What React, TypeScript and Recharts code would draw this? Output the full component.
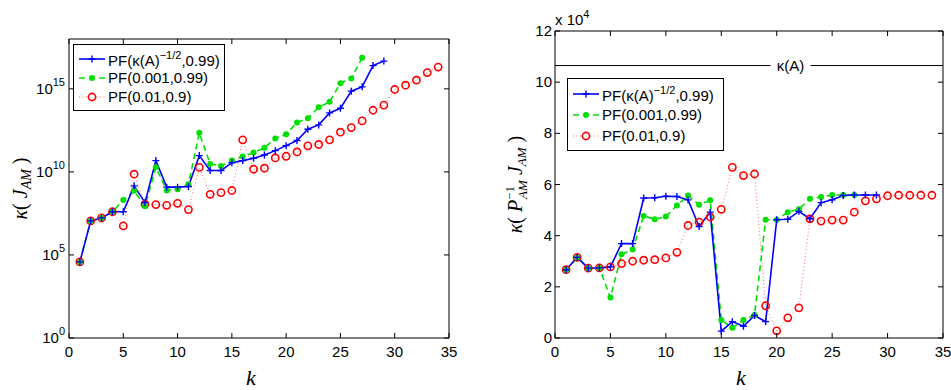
import { Line, LineChart, ReferenceLine, XAxis, YAxis } from "recharts";

// left panel, log10 of kappa(J_AM)
const blueLeft = [4.58, 7.05, 7.23, 7.6, 7.6, 9.16, 8.15, 10.68, 9.08, 9.08, 9.12, 10.98, 10.08, 10.08, 10.55, 10.68, 10.82, 11.02, 11.28, 11.58, 11.89, 12.57, 12.83, 13.55, 13.83, 14.86, 15.12, 16.4, 16.67];
const greenLeft = [4.58, 7.05, 7.23, 7.6, 8.31, 8.86, 7.93, 10.28, 8.88, 8.96, 9.25, 12.35, 10.48, 10.36, 10.68, 10.92, 11.16, 11.45, 12.01, 12.27, 12.97, 13.23, 13.89, 14.22, 15.34, 15.62, 16.87];
const redLeft = [4.58, 7.05, 7.23, 7.6, 6.75, 9.86, 8.05, 8.03, 7.99, 8.11, 7.73, 10.27, 8.65, 8.75, 8.88, 11.93, 10.16, 10.22, 10.84, 10.94, 11.2, 11.57, 11.65, 11.93, 12.39, 12.67, 13.07, 13.71, 14.02, 14.96, 15.22, 15.52, 15.98, 16.31];

// right panel, kappa(P^-1 J) in units of 1e4
const blueRight = [2.67, 3.15, 2.73, 2.74, 2.78, 3.69, 3.69, 5.47, 5.48, 5.54, 5.53, 5.4, 4.36, 4.92, 0.27, 0.64, 0.46, 0.88, 0.64, 4.62, 4.64, 4.95, 4.66, 5.29, 5.4, 5.57, 5.59, 5.59, 5.59];
const greenRight = [2.67, 3.15, 2.73, 2.74, 1.58, 3.27, 3.46, 4.77, 4.64, 4.75, 5.18, 5.57, 5.21, 5.38, 0.7, 0.4, 0.7, 0.9, 4.62, 4.62, 4.92, 5.03, 5.44, 5.51, 5.59, 5.59, 5.59];
const redRight = [2.67, 3.15, 2.73, 2.74, 2.78, 2.91, 3.0, 3.04, 3.06, 3.13, 3.35, 4.4, 4.53, 4.73, 5.03, 6.67, 6.35, 6.41, 1.26, 0.28, 0.79, 1.18, 4.66, 4.57, 4.61, 4.61, 4.92, 5.36, 5.44, 5.56, 5.58, 5.58, 5.58, 5.58];
const kappaA = 10.65;

const xTicks = [0, 5, 10, 15, 20, 25, 30, 35];
const leftYTicks = [0, 5, 10, 15];
const rightYTicks = [0, 2, 4, 6, 8, 10, 12];

const BLUE = "#0000ff";
const GREEN = "#00e000";
const RED = "#ff0000";
const SANS = '"Liberation Sans", Arial, Helvetica, sans-serif';
const SERIF = '"Liberation Serif", "DejaVu Serif", "Times New Roman", serif';

const toRows = (values: number[]) => values.map((v, i) => ({ k: i + 1, v }));

function plusDot(p: any) {
  if (p.cx == null || p.cy == null) return <g key={`p-${p.index}`} />;
  const { cx, cy } = p;
  return <path key={`p-${p.index}`} d={`M${cx - 3.5},${cy}H${cx + 3.5}M${cx},${cy - 3.5}V${cy + 3.5}`} stroke={BLUE} strokeWidth={1.4} />;
}

function greenDot(p: any) {
  if (p.cx == null || p.cy == null) return <g key={`g-${p.index}`} />;
  return <circle key={`g-${p.index}`} cx={p.cx} cy={p.cy} r={3} fill={GREEN} stroke="none" />;
}

function redDot(p: any) {
  if (p.cx == null || p.cy == null) return <g key={`r-${p.index}`} />;
  return <circle key={`r-${p.index}`} cx={p.cx} cy={p.cy} r={3.6} fill="none" stroke={RED} strokeWidth={1.6} />;
}

function BottomTick({ x, y, payload }: any) {
  return (
    <g>
      <line x1={x} x2={x} y1={y} y2={y - 5} stroke="#000" />
      <text x={x} y={y + 19} textAnchor="middle" fontSize={15} fontFamily={SANS} fill="#000">
        {payload.value}
      </text>
    </g>
  );
}

function TopTick({ x, y }: any) {
  return <line x1={x} x2={x} y1={y} y2={y + 5} stroke="#000" />;
}

function RightTick({ x, y }: any) {
  return <line x1={x} x2={x - 5} y1={y} y2={y} stroke="#000" />;
}

function LogTick({ x, y, payload }: any) {
  return (
    <g>
      <line x1={x} x2={x + 5} y1={y} y2={y} stroke="#000" />
      <text x={x - 4} y={y + 5} textAnchor="end" fontSize={15} fontFamily={SANS} fill="#000">
        <tspan>10</tspan>
        <tspan dy={-8} fontSize={11}>{payload.value}</tspan>
      </text>
    </g>
  );
}

function LinTick({ x, y, payload }: any) {
  return (
    <g>
      <line x1={x} x2={x + 5} y1={y} y2={y} stroke="#000" />
      <text x={x - 3} y={y + 5} textAnchor="end" fontSize={15} fontFamily={SANS} fill="#000">
        {payload.value}
      </text>
    </g>
  );
}

function KLabel({ viewBox }: any) {
  return (
    <text x={viewBox.x + viewBox.width / 2 - 8} y={viewBox.y + 47} textAnchor="middle" fontSize={22} fontStyle="italic" fontFamily={SERIF} fill="#000">
      k
    </text>
  );
}

function LeftYLabel({ viewBox }: any) {
  const x = viewBox.x + 8;
  const y = viewBox.y + viewBox.height / 2;
  return (
    <text transform={`translate(${x},${y}) rotate(-90)`} textAnchor="middle" fontSize={20} fontFamily={SERIF} fill="#000">
      <tspan fontStyle="italic">κ</tspan>
      <tspan>( </tspan>
      <tspan fontStyle="italic">J</tspan>
      <tspan fontStyle="italic" fontSize={14} dy={4}>AM</tspan>
      <tspan dy={-4}> )</tspan>
    </text>
  );
}

function RightYLabel({ viewBox }: any) {
  const x = viewBox.x + 17;
  const y = viewBox.y + viewBox.height / 2;
  return (
    <text transform={`translate(${x},${y}) rotate(-90)`} textAnchor="middle" fontSize={20} fontFamily={SERIF} fill="#000">
      <tspan fontStyle="italic">κ</tspan>
      <tspan>( </tspan>
      <tspan fontStyle="italic">P</tspan>
      <tspan fontSize={13} dy={-8}>−1</tspan>
      <tspan fontStyle="italic" fontSize={13} dx={-13} dy={13}>AM</tspan>
      <tspan fontStyle="italic" dy={-5}> J</tspan>
      <tspan fontStyle="italic" fontSize={13} dy={4}>AM</tspan>
      <tspan dy={-4}> )</tspan>
    </text>
  );
}

function KappaLabel({ viewBox }: any) {
  const cx = viewBox.x + viewBox.width * 0.607;
  const cy = viewBox.y;
  return (
    <g>
      <rect x={cx - 20} y={cy - 9} width={40} height={18} fill="#fff" />
      <text x={cx} y={cy + 5} textAnchor="middle" fontSize={15} fontFamily={SANS} fill="#000">
        κ(A)
      </text>
    </g>
  );
}

function LegendBox({ left, top, width, rowGap }: { left: number; top: number; width: number; rowGap: number }) {
  const rows = [
    { key: "b", text: <>PF(κ(A)<sup style={{ fontSize: 11, position: "relative", top: -1 }}>−1/2</sup>,0.99)</>, color: BLUE, dash: undefined, marker: "plus" },
    { key: "g", text: <>PF(0.001,0.99)</>, color: GREEN, dash: "6 4", marker: "dot" },
    { key: "r", text: <>PF(0.01,0.9)</>, color: RED, dash: "1 2.5", marker: "circle" }
  ];
  return (
    <div
      style={{
        position: "absolute",
        left,
        top,
        width,
        border: "1px solid #000",
        background: "#fff",
        padding: "4px 0 4px 4px",
        boxSizing: "border-box",
        fontFamily: SANS,
        fontSize: 15,
        lineHeight: `${rowGap}px`,
        color: "#000"
      }}
    >
      {rows.map((row) => (
        <div key={row.key} style={{ display: "flex", alignItems: "center", height: rowGap, whiteSpace: "nowrap" }}>
          <svg width={28} height={12} style={{ marginRight: 2, flex: "none" }}>
            <line x1={1} x2={27} y1={6} y2={6} stroke={row.color} strokeWidth={row.marker === "circle" ? 1 : 1.6} strokeDasharray={row.dash} opacity={row.marker === "circle" ? 0.6 : 1} />
            {row.marker === "plus" && <path d="M10.5,6H17.5M14,2.5V9.5" stroke={row.color} strokeWidth={1.4} />}
            {row.marker === "dot" && <circle cx={14} cy={6} r={3} fill={row.color} />}
            {row.marker === "circle" && <circle cx={14} cy={6} r={3.6} fill="#fff" stroke={row.color} strokeWidth={1.6} />}
          </svg>
          <span>{row.text}</span>
        </div>
      ))}
    </div>
  );
}

export default function App() {
  return (
    <div style={{ position: "absolute", left: 0, top: 0, width: 951, height: 390, background: "#fff", overflow: "hidden" }}>
      <div style={{ position: "absolute", left: 0, top: 0 }}>
        <LineChart width={460} height={390} margin={{ top: 34, right: 6, bottom: 22, left: 19 }}>
          <XAxis type="number" dataKey="k" domain={[0, 35]} ticks={xTicks} interval={0} allowDataOverflow height={30} tickSize={0} tickMargin={0} tick={<BottomTick />} axisLine={{ stroke: "#000" }} label={<KLabel />} />
          <XAxis xAxisId="top" orientation="top" type="number" dataKey="k" domain={[0, 35]} ticks={xTicks} interval={0} allowDataOverflow height={5} tickSize={0} tickMargin={0} tick={<TopTick />} axisLine={{ stroke: "#000" }} />
          <YAxis type="number" domain={[0, 18]} ticks={leftYTicks} interval={0} allowDataOverflow width={50} tickSize={0} tickMargin={0} tick={<LogTick />} axisLine={{ stroke: "#000" }} label={<LeftYLabel />} />
          <YAxis yAxisId="right" orientation="right" type="number" domain={[0, 18]} ticks={leftYTicks} interval={0} allowDataOverflow width={5} tickSize={0} tickMargin={0} tick={<RightTick />} axisLine={{ stroke: "#000" }} />
          <Line data={toRows(redLeft)} dataKey="v" type="linear" stroke={RED} strokeWidth={1} strokeDasharray="1 2.5" strokeOpacity={0.6} dot={redDot} activeDot={false} isAnimationActive={false} />
          <Line data={toRows(greenLeft)} dataKey="v" type="linear" stroke={GREEN} strokeWidth={1.6} strokeDasharray="6 4" dot={greenDot} activeDot={false} isAnimationActive={false} />
          <Line data={toRows(blueLeft)} dataKey="v" type="linear" stroke={BLUE} strokeWidth={1.6} dot={plusDot} activeDot={false} isAnimationActive={false} />
        </LineChart>
        <LegendBox left={73} top={44} width={152} rowGap={19} />
      </div>
      <div style={{ position: "absolute", left: 475, top: 0 }}>
        <LineChart width={476} height={390} margin={{ top: 26, right: 3, bottom: 22, left: 30 }}>
          <XAxis type="number" dataKey="k" domain={[0, 35]} ticks={xTicks} interval={0} allowDataOverflow height={30} tickSize={0} tickMargin={0} tick={<BottomTick />} axisLine={{ stroke: "#000" }} label={<KLabel />} />
          <XAxis xAxisId="top" orientation="top" type="number" dataKey="k" domain={[0, 35]} ticks={xTicks} interval={0} allowDataOverflow height={5} tickSize={0} tickMargin={0} tick={<TopTick />} axisLine={{ stroke: "#000" }} />
          <YAxis type="number" domain={[0, 12]} ticks={rightYTicks} interval={0} allowDataOverflow width={50} tickSize={0} tickMargin={0} tick={<LinTick />} axisLine={{ stroke: "#000" }} label={<RightYLabel />} />
          <YAxis yAxisId="right" orientation="right" type="number" domain={[0, 12]} ticks={rightYTicks} interval={0} allowDataOverflow width={5} tickSize={0} tickMargin={0} tick={<RightTick />} axisLine={{ stroke: "#000" }} />
          <ReferenceLine y={kappaA} stroke="#000" strokeWidth={1} label={<KappaLabel />} />
          <Line data={toRows(redRight)} dataKey="v" type="linear" stroke={RED} strokeWidth={1} strokeDasharray="1 2.5" strokeOpacity={0.6} dot={redDot} activeDot={false} isAnimationActive={false} />
          <Line data={toRows(greenRight)} dataKey="v" type="linear" stroke={GREEN} strokeWidth={1.6} strokeDasharray="6 4" dot={greenDot} activeDot={false} isAnimationActive={false} />
          <Line data={toRows(blueRight)} dataKey="v" type="linear" stroke={BLUE} strokeWidth={1.6} dot={plusDot} activeDot={false} isAnimationActive={false} />
        </LineChart>
        <LegendBox left={92} top={78} width={157} rowGap={21} />
        <div style={{ position: "absolute", left: 80, top: 9, fontFamily: SANS, fontSize: 15, color: "#000", whiteSpace: "nowrap" }}>
          x 10<sup style={{ fontSize: 11, position: "relative", top: -1 }}>4</sup>
        </div>
      </div>
    </div>
  );
}
